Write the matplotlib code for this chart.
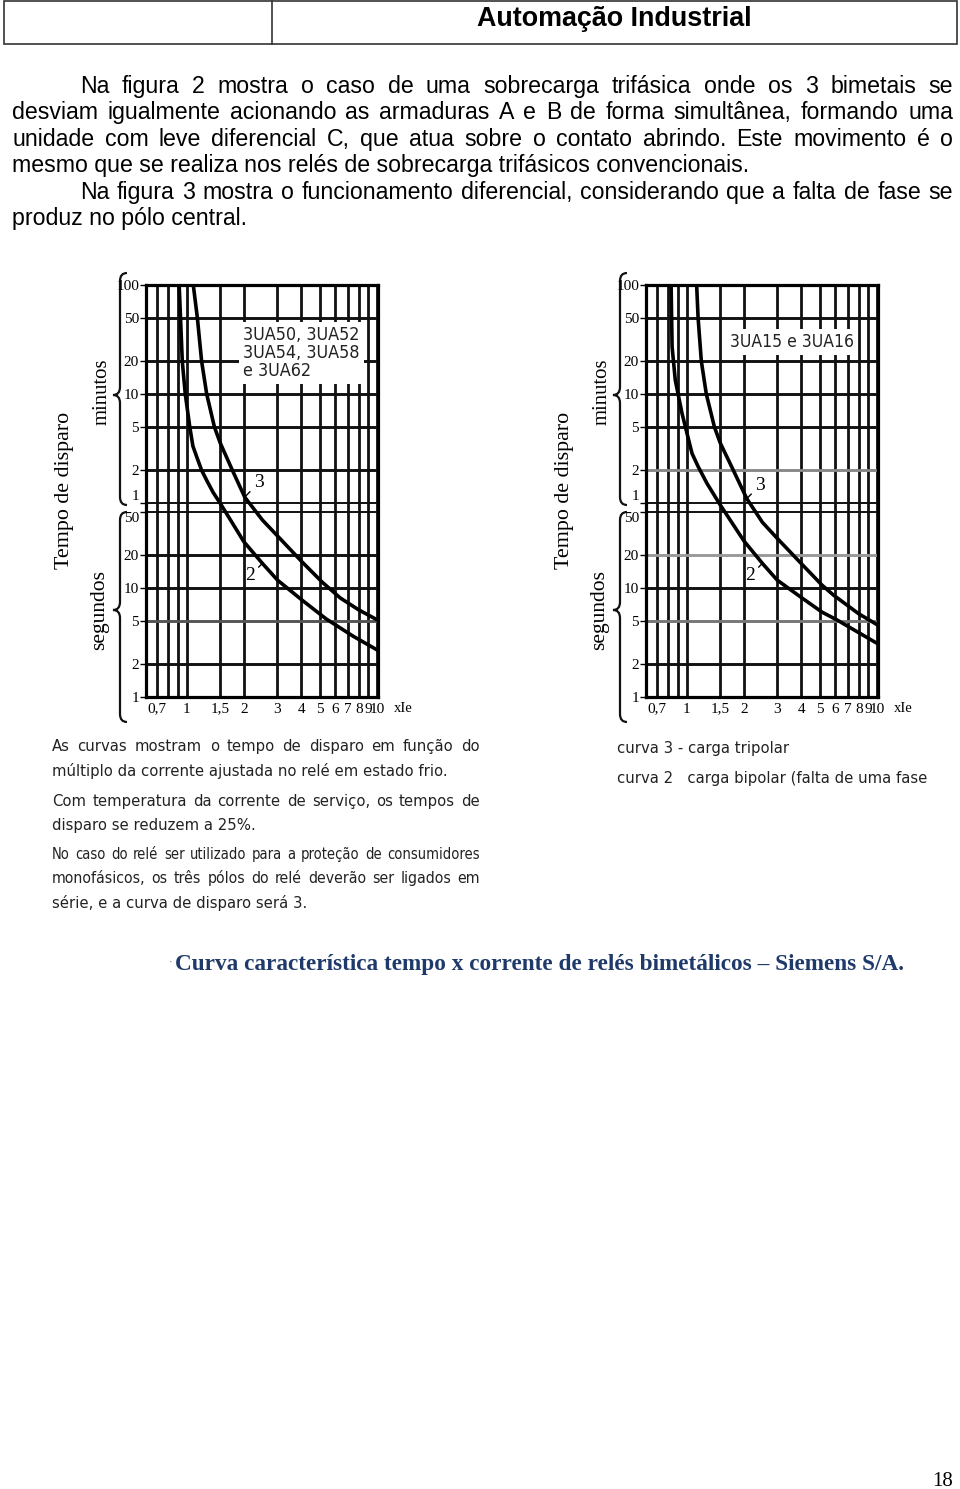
import matplotlib
matplotlib.use("Agg")
import matplotlib.pyplot as plt
from matplotlib import font_manager
from matplotlib.font_manager import FontProperties
from matplotlib.patches import Rectangle, PathPatch
from matplotlib.path import Path
from matplotlib.ticker import NullLocator

# eixo x: múltiplo da corrente ajustada (x Ie)
x_ticks = [0.7, 1, 1.5, 2, 3, 4, 5, 6, 7, 8, 9, 10]
x_labels = ["0,7", "1", "1,5", "2", "3", "4", "5", "6", "7", "8", "9", "10"]
x_grid = [0.7, 0.8, 0.9, 1, 1.5, 2, 3, 4, 5, 6, 7, 8, 9, 10]

# eixo y: tempo de disparo em segundos (minutos acima de 1 min)
y_ticks = [6000, 3000, 1200, 600, 300, 120, 60, 50, 20, 10, 5, 2, 1]
y_labels = ["100", "50", "20", "10", "5", "2", "1", "50", "20", "10", "5", "2", "1"]

# 3UA50, 3UA52, 3UA54, 3UA58 e 3UA62
a_c3_x = [1.085, 1.14, 1.2, 1.276, 1.4, 1.5, 1.74, 2.02, 2.5, 3.0, 4.04, 5.15, 6.4, 8.0, 10]
a_c3_t = [6000, 3000, 1200, 600, 300, 215, 120, 68, 42, 30, 17.3, 11.3, 8.1, 6.3, 5.1]
a_c2_x = [0.915, 0.93, 0.95, 0.985, 1.04, 1.08, 1.13, 1.2, 1.28, 1.38, 1.5, 2.0, 2.5, 3.0, 4.05, 5.4, 7.5, 10]
a_c2_t = [6000, 3000, 1200, 600, 300, 200, 160, 120, 96, 75, 60, 26.5, 16.8, 11.8, 7.7, 5.2, 3.6, 2.7]

# 3UA15 e 3UA16
b_c3_x = [1.13, 1.15, 1.196, 1.27, 1.40, 1.5, 1.76, 2.07, 2.5, 2.99, 4.07, 5.14, 5.9, 8.0, 10]
b_c3_t = [6000, 3000, 1200, 600, 300, 215, 120, 66, 40, 28.5, 16.2, 10.6, 8.6, 5.8, 4.6]
b_c2_x = [0.83, 0.84, 0.873, 0.947, 1.069, 1.15, 1.28, 1.5, 2.0, 2.5, 2.99, 4.07, 5.14, 6.14, 10]
b_c2_t = [6000, 1630, 805, 399, 171, 130, 91, 58, 27, 16.8, 11.8, 8.0, 6.0, 5.1, 3.1]

W, H = 960, 1489
fig = plt.figure(figsize=(W / 100, H / 100), dpi=100)
page = fig.add_axes([0, 0, 1, 1])
page.set_xlim(0, W)
page.set_ylim(H, 0)
page.axis("off")
renderer = fig.canvas.get_renderer()


def pick_narrow():
    best = None
    skip = ["bold", "light", "thin", "medium", "black", "italic", "oblique", "heavy", "mono", "serif"]
    for f in font_manager.fontManager.ttflist:
        fn = f.fname.lower().split("/")[-1].replace("-", "").replace("_", "")
        if any(k in fn for k in skip):
            continue
        if "liberationsansnarrow" in fn:
            score = 0
        elif "semicondensed" in fn:
            score = 3
        elif "extracondensed" in fn or "ultracondensed" in fn:
            score = 4
        elif "condensed" in fn or "narrow" in fn:
            score = 1
        else:
            continue
        if best is None or score < best[0]:
            best = (score, f.fname)
    if best is None:
        return dict(family="Liberation Sans")
    return dict(fontproperties=FontProperties(fname=best[1]))


narrow = pick_narrow()
sans = dict(family="Liberation Sans")
serif = dict(family="Liberation Serif")


def width_of(s, **kw):
    t = page.text(0, 0, s, **kw)
    w = t.get_window_extent(renderer).width
    t.remove()
    return w


def fit(s, target, **kw):
    return 20 * target / width_of(s, fontsize=20, **kw)


def line(s, x0, y, size, x1=None, clip=None, **kw):
    if x1 is None:
        t = page.text(x0, y, s, fontsize=size, va="baseline", ha="left", **kw)
        if clip is not None:
            t.set_clip_path(clip)
        return
    natural = width_of(s, fontsize=size, **kw)
    if natural > (x1 - x0):
        size = size * (x1 - x0) / natural * 0.97
    words = s.split()
    ws = [width_of(w, fontsize=size, **kw) for w in words]
    gap = (x1 - x0 - sum(ws)) / (len(words) - 1)
    x = x0
    for w, wd in zip(words, ws):
        page.text(x, y, w, fontsize=size, va="baseline", ha="left", **kw)
        x += wd + gap


# cabeçalho
page.add_patch(Rectangle((4, 1), 953, 43, fill=False, lw=1.2, ec="#333333"))
page.plot([272, 272], [1, 44], color="#333333", lw=1.2)
ts = fit("Automação Industrial", 275, weight="bold", **sans)
page.text(477, 26, "Automação Industrial", fontsize=ts, weight="bold", va="baseline", **sans)

# texto do corpo
bs = fit("mesmo que se realiza nos relés de sobrecarga trifásicos convencionais.", 738, **sans)
line("Na figura 2 mostra o caso de uma sobrecarga trifásica onde os 3 bimetais se", 80, 93, bs, 953, **sans)
line("desviam igualmente acionando as armaduras A e B de forma simultânea, formando uma", 12, 119, bs, 953, **sans)
line("unidade com leve diferencial C, que atua sobre o contato abrindo. Este movimento é o", 12, 146, bs, 953, **sans)
line("mesmo que se realiza nos relés de sobrecarga trifásicos convencionais.", 12, 172, bs, **sans)
line("Na figura 3 mostra o funcionamento diferencial, considerando que a falta de fase se", 80, 199, bs, 953, **sans)
line("produz no pólo central.", 12, 225, bs, **sans)


def brace(xs, xt, xn, y0, y1, ym, r=8):
    verts = [(xt, y0), (xs, y0), (xs, y0 + r), (xs, ym - r), (xs, ym), (xn, ym),
             (xs, ym), (xs, ym + r), (xs, y1 - r), (xs, y1), (xt, y1)]
    codes = [Path.MOVETO, Path.CURVE3, Path.CURVE3, Path.LINETO, Path.CURVE3, Path.CURVE3,
             Path.CURVE3, Path.CURVE3, Path.LINETO, Path.CURVE3, Path.CURVE3]
    page.add_patch(PathPatch(Path(verts, codes), fill=False, lw=1.6, ec="#111111"))


def chart(left, c3x, c3t, c2x, c2t, title, title_w, title_pos, grey_lines, i3, i2, off3, off2):
    ax = fig.add_axes([left / W, 1 - 697 / H, 232 / W, 412 / H])
    ax.set_xscale("log")
    ax.set_yscale("log")
    ax.set_xlim(0.613, 10.1)
    ax.set_ylim(1, 6000)
    for v in x_grid:
        ax.axvline(v, color="#111111", lw=2.0, zorder=1)
    for v in y_ticks[1:-1]:
        c = grey_lines.get(v, "#111111")
        w = 1.4 if v in (60, 50) else 2.1
        ax.axhline(v, color=c, lw=w, zorder=1)
    tsz = fit(title.split("\n")[0], title_w, **narrow)
    ax.text(*title_pos, title, transform=ax.transAxes, ha="left", va="center",
            fontsize=tsz, linespacing=1.0, zorder=3, color="#222222",
            bbox=dict(facecolor="white", edgecolor="none", pad=3), **narrow)
    ax.plot(c3x, c3t, color="black", lw=2.6, zorder=4, solid_capstyle="round", solid_joinstyle="round")
    ax.plot(c2x, c2t, color="black", lw=2.6, zorder=4, solid_capstyle="round", solid_joinstyle="round")
    ax.annotate("3", xy=(c3x[i3], c3t[i3]), xytext=off3, textcoords="offset points",
                ha="center", va="center", fontsize=14, zorder=5, **serif,
                arrowprops=dict(arrowstyle="-", lw=1, color="black", shrinkA=1, shrinkB=1))
    ax.annotate("2", xy=(c2x[i2], c2t[i2]), xytext=off2, textcoords="offset points",
                ha="center", va="center", fontsize=14, zorder=5, **serif,
                arrowprops=dict(arrowstyle="-", lw=1, color="black", shrinkA=1, shrinkB=1))
    ax.xaxis.set_minor_locator(NullLocator())
    ax.yaxis.set_minor_locator(NullLocator())
    ax.set_xticks(x_ticks)
    ax.set_xticklabels(x_labels, fontsize=11, **serif)
    ax.set_yticks(y_ticks)
    ax.set_yticklabels(y_labels, fontsize=11, **serif)
    ylab = ax.get_yticklabels()
    ylab[6].set_va("bottom")
    ylab[7].set_va("top")
    ax.tick_params(axis="x", length=0, pad=4)
    ax.tick_params(axis="y", length=4, width=1, pad=1)
    for s in ax.spines.values():
        s.set_linewidth(2.3)
    ax.text(1.108, -0.029, "xIe", transform=ax.transAxes, ha="center", va="center",
            fontsize=10.5, **serif)
    # chaves e rótulos do eixo y
    dx = left - 146
    brace(120 + dx, 127 + dx, 113 + dx, 273, 505, 395)
    brace(120 + dx, 127 + dx, 113 + dx, 512, 722, 610)
    page.text(102 + dx, 392, "minutos", rotation=90, ha="center", va="center",
              fontsize=fit("minutos", 67, **serif), **serif)
    page.text(100 + dx, 610, "segundos", rotation=90, ha="center", va="center",
              fontsize=fit("segundos", 80, **serif), **serif)
    page.text(65 + dx, 490, "Tempo de disparo", rotation=90, ha="center", va="center",
              fontsize=fit("Tempo de disparo", 157, **serif), **serif)
    return ax


chart(146, a_c3_x, a_c3_t, a_c2_x, a_c2_t, "3UA50, 3UA52\n3UA54, 3UA58\ne 3UA62", 117,
      (0.42, 0.835), {5: "#555555"}, 7, 12, (10, 10.5), (-9, -9))
chart(646, b_c3_x, b_c3_t, b_c2_x, b_c2_t, "3UA15 e 3UA16", 123,
      (0.36, 0.862), {20: "#999999", 120: "#888888", 5: "#777777"}, 7, 9, (9.5, 9.5), (-9, -9))

# notas sob os gráficos
clip = Rectangle((45, 255), 876, 730, transform=page.transData)
ns = fit("múltiplo da corrente ajustada no relé em estado frio.", 391, **narrow)
nk = dict(color="#222222", **narrow)
line("As curvas mostram o tempo de disparo em função do", 52, 751, ns, 480, **nk)
line("múltiplo da corrente ajustada no relé em estado frio.", 52, 776, ns, **nk)
line("Com temperatura da corrente de serviço, os tempos de", 52, 806, ns, 480, **nk)
line("disparo se reduzem a 25%.", 52, 830, ns, **nk)
line("No caso do relé ser utilizado para a proteção de consumidores", 52, 859, ns, 480, **nk)
line("monofásicos, os três pólos do relé deverão ser ligados em", 52, 883, ns, 480, **nk)
line("série, e a curva de disparo será 3.", 52, 908, ns, **nk)
line("curva 3 - carga tripolar", 617, 753, ns, **nk)
line("curva 2   carga bipolar (falta de uma fase", 617, 783, ns, clip=clip, **nk)

# legenda da figura
cap = "Curva característica tempo x corrente de relés bimetálicos – Siemens S/A."
cs = fit(cap, 731, weight="bold", **serif)
page.text(171, 962, "·", fontsize=8, color="#777777", ha="center", va="center", **serif)
page.text(175, 970, cap, fontsize=cs, weight="bold", color="#1f3a6a", va="baseline", **serif)

# número da página
page.text(953, 1486, "18", fontsize=15, ha="right", va="baseline", **serif)

fig.savefig("out.png", dpi=100)
